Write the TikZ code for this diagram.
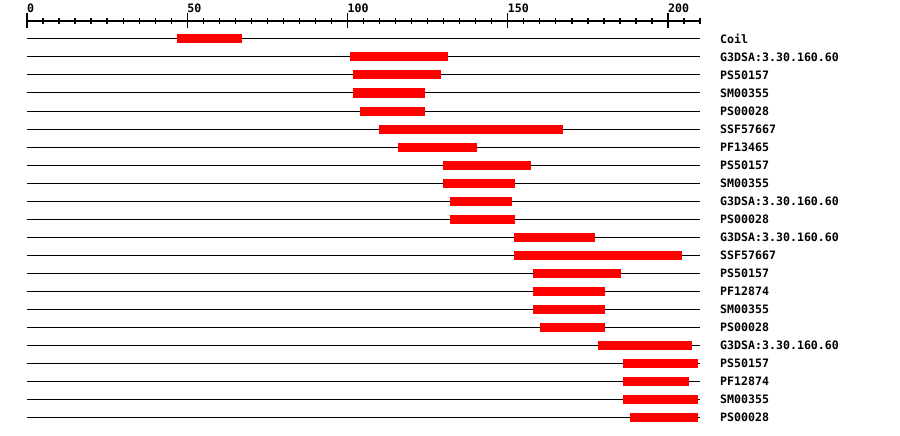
\documentclass[tikz,border=0pt]{standalone}
\usepackage{fontspec}
\setmonofont{DejaVu Sans Mono}
\begin{document}
\begin{tikzpicture}[x=1pt,y=-1pt,
  lbl/.style={font=\ttfamily\bfseries\fontsize{11.6}{12}\selectfont, inner sep=0pt, anchor=base west},
  track/.style={line width=1pt, black},
  tick/.style={line width=1.3pt, black},
  hit/.style={fill=red, draw=none}]
\useasboundingbox (0,0) rectangle (900,436);
% ruler
\draw[line width=1.3pt] (27,21) -- (700,21);
\foreach \k in {0,...,42} {
  \pgfmathsetmacro{\xx}{27+16.025*\k}
  \draw[tick] (\xx,18) -- (\xx,24);
}
\foreach \k/\t in {0/0,10/50,20/100,30/150,40/200} {
  \pgfmathsetmacro{\xx}{27+16.025*\k}
  \draw[tick] (\xx,13) -- (\xx,28);
  \node[lbl] (r\t) at (\xx,12.5) {\t};
}
% tracks
\foreach \i/\a/\b/\nm in {
  1/177/242/Coil,
  2/350/448/G3DSA:3.30.160.60,
  3/353/441/PS50157,
  4/353/425/SM00355,
  5/360/425/PS00028,
  6/379/563/SSF57667,
  7/398/477/PF13465,
  8/443/531/PS50157,
  9/443/515/SM00355,
  10/450/512/G3DSA:3.30.160.60,
  11/450/515/PS00028,
  12/514/595/G3DSA:3.30.160.60,
  13/514/682/SSF57667,
  14/533/621/PS50157,
  15/533/605/PF12874,
  16/533/605/SM00355,
  17/540/605/PS00028,
  18/598/692/G3DSA:3.30.160.60,
  19/623/698/PS50157,
  20/623/689/PF12874,
  21/623/698/SM00355,
  22/630/698/PS00028} {
  \pgfmathsetmacro{\yy}{21+18*\i}
  \draw[track] (27,\yy) -- (700,\yy);
  \fill[hit] (\a,\yy-4.5) rectangle (\b,\yy+4.5);
  \node[lbl] (t\i) at (720,\yy+4.2) {\nm};
}
\end{tikzpicture}
\end{document}
